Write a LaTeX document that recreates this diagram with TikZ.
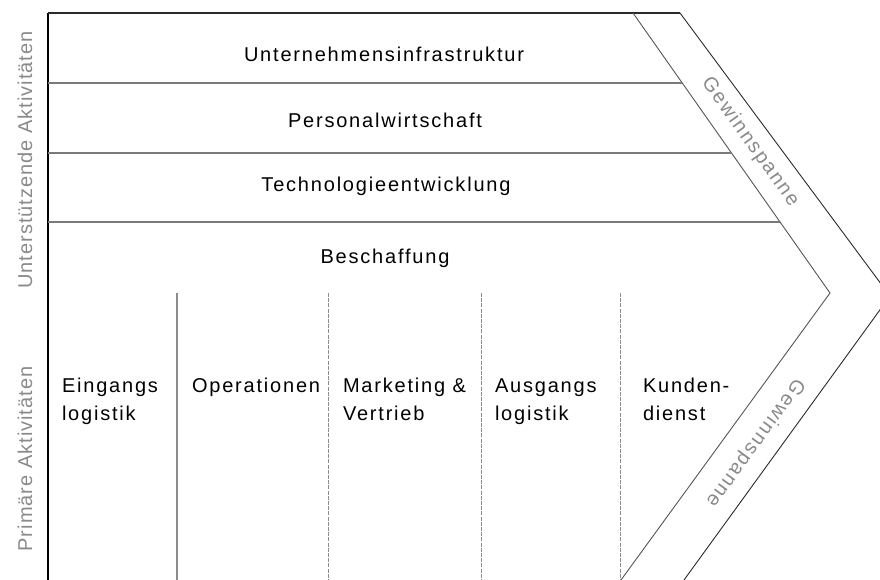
\documentclass[tikz,border=0pt]{standalone}
\usepackage{fontspec}
\setmainfont{Liberation Sans}[LetterSpace=9]
\newfontfamily\sidefont{Liberation Sans}[LetterSpace=5]
\usetikzlibrary{calc}
\definecolor{rulegray}{HTML}{7A7A7A}
\definecolor{sepgray}{HTML}{8C8C8C}
\definecolor{labelgray}{HTML}{8A8A8A}
\definecolor{edgedark}{HTML}{2A2A2A}
\begin{document}
\begin{tikzpicture}[x=1pt,y=-1pt,
  every node/.style={inner sep=0pt,outer sep=0pt,font=\fontsize{20}{28}\selectfont},
  activity/.style={anchor=base},
  primary/.style={anchor=base west,align=left},
  sidelabel/.style={anchor=base,rotate=90,text=labelgray,font=\sidefont\fontsize{20}{28}\selectfont},
  margin/.style={text=labelgray},
  frame/.style={line width=1.6pt},
  band/.style={draw=rulegray,line width=1.6pt},
  chevron/.style={draw=edgedark,line width=0.9pt},
  firstsep/.style={draw=sepgray,line width=1.4pt},
  colsep/.style={draw=sepgray,line width=0.9pt,dash pattern=on 4pt off 1.2pt}]
\useasboundingbox (0,0) rectangle (880,580);
\clip (0,0) rectangle (880,580);

% corner points of the value-chain arrow
\coordinate (TL) at (48,13);
\coordinate (BL) at (48,580);
\coordinate (inTop) at (633,13);
\coordinate (inTip) at (830,293);
\coordinate (inBot) at (621,580);
\coordinate (outTop) at (680,13);
\coordinate (outTip) at (890,296);
\coordinate (outBot) at (684,580);

% band borders end on the inner margin edge
\coordinate (b1) at ($(inTop)!{(83-13)/280}!(inTip)$);
\coordinate (b2) at ($(inTop)!{(153-13)/280}!(inTip)$);
\coordinate (b3) at ($(inTop)!{(222-13)/280}!(inTip)$);
\coordinate (a1) at (48,83);
\coordinate (a2) at (48,153);
\coordinate (a3) at (48,222);

% outer frame
\draw[frame,draw=black] (TL) -- (BL);
\draw[frame,draw=edgedark] (TL) -- (outTop);

% margin chevrons
\draw[chevron] (outTop) -- (outTip) -- (outBot);
\draw[chevron,draw=edgedark!80] (inTop) -- (inTip) -- (inBot);

% support activity bands
\draw[band] (a1) -- (b1);
\draw[band] (a2) -- (b2);
\draw[band] (a3) -- (b3);

% primary activity columns
\coordinate (s1t) at (177,293); \coordinate (s1b) at (177,580);
\coordinate (s2t) at (328,293); \coordinate (s2b) at (328,580);
\coordinate (s3t) at (481,293); \coordinate (s3b) at (481,580);
\coordinate (s4t) at (620,293); \coordinate (s4b) at (620,580);
\draw[firstsep] (s1t) -- (s1b);
\draw[colsep] (s2t) -- (s2b);
\draw[colsep] (s3t) -- (s3b);
\draw[colsep] (s4t) -- (s4b);

% support activities
\node[activity] (infra) at (384,62) {Unternehmensinfrastruktur};
\node[activity] (hr) at (385,128) {Personalwirtschaft};
\node[activity] (tech) at (386,192) {Technologieentwicklung};
\node[activity] (proc) at (385,263) {Beschaffung};

% primary activities (two-line labels sit on the baseline of their last line)
\node[primary] (inlog) at (62,420) {Eingangs\\logistik};
\node[primary] (ops) at (192,392) {Operationen};
\node[primary] (mkt) at (343,420) {Marketing \&\\Vertrieb};
\node[primary] (outlog) at (495,420) {Ausgangs\\logistik};
\node[primary] (serv) at (643,420) {Kunden-\\dienst};

% margin labels
\node[margin,rotate=-54.5] (m1) at (750,142) {Gewinnspanne};
\node[margin,rotate=-126] (m2) at (755,443) {Gewinnspanne};

% side labels
\node[sidelabel] (supp) at (32,160) {Unterstützende Aktivitäten};
\node[sidelabel] (prim) at (32,459) {Primäre Aktivitäten};
\end{tikzpicture}
\end{document}
